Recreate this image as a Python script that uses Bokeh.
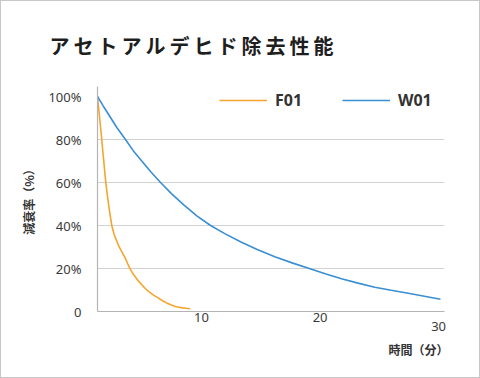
from bokeh.plotting import figure
from bokeh.models import Range1d, Legend, LegendItem, FixedTicker, Title
from bokeh.embed import file_html
from bokeh.resources import INLINE

# ---- data ----
title_text = "アセトアルデヒド除去性能"
y_label = "減衰率（%）"
x_label = "時間（分）"
series_names = ["F01", "W01"]

t_f01 = [1.22, 1.31, 1.40, 1.49, 1.58, 1.66, 1.75, 1.83, 1.92, 2.03, 2.15, 2.28, 2.43, 2.63,
         2.85, 3.00, 3.20, 3.56, 3.77, 3.98, 4.20, 4.45, 4.70, 4.96, 5.25, 5.60, 5.95, 6.37,
         6.70, 7.05, 7.40, 7.78, 8.10, 8.40, 8.70, 9.04]
v_f01 = [100, 95, 90, 85, 79.9, 75, 70, 65, 60, 55, 50, 45, 39.9, 35.7,
         32.6, 30.6, 28.5, 24.8, 22.2, 19.7, 17.7, 15.8, 14.0, 12.4, 10.7, 9.0, 7.6, 6.2,
         5.0, 4.0, 3.1, 2.3, 2.0, 1.7, 1.5, 1.3]

t_w01 = [1.22, 1.70, 2.17, 2.85, 3.58, 4.25, 4.99, 5.75, 6.54, 7.50, 8.50, 9.60, 10.76, 12.00,
         13.37, 14.70, 16.18, 17.70, 19.28, 20.50, 21.81, 23.20, 24.62, 26.00, 27.44, 28.80, 30.16]
v_w01 = [100, 95.6, 91.5, 85.6, 80, 74.7, 69.8, 64.8, 60, 54.6, 49.6, 44.5, 40, 36.1,
         32.2, 28.8, 25.5, 22.5, 19.7, 17.4, 15.2, 13.2, 11.3, 9.9, 8.5, 7.1, 5.7]

y_ticks = [0, 20, 40, 60, 80, 100]
y_tick_labels = ["0", "20%", "40%", "60%", "80%", "100%"]
x_ticks = [10, 20, 30]
x_tick_labels = ["10", "20", "\n30"]

# ---- layout constants ----
FL, FR, FT, FB = 96, 443, 85, 310
W, H = 480, 378
X0, X1 = 1.22, 30.5
Y0 = 0
Y1 = 100 + (95 - FT) / 2.15

p = figure(width=W, height=H, output_backend="svg", toolbar_location=None,
           x_range=Range1d(X0, X1), y_range=Range1d(Y0, Y1),
           min_border_left=FL, min_border_right=W - FR,
           min_border_top=FT, min_border_bottom=H - FB)
p.outline_line_color = None
p.background_fill_color = "white"
p.border_fill_color = "white"

# title with thin spaces for letter spacing
p.title.text = "\u2009".join(title_text)
p.title.align = "left"
p.title.offset = 48 - FL
p.title.text_font = "Noto Sans CJK JP"
p.title.text_font_size = "20px"
p.title.text_font_style = "bold"
p.title.text_color = "#1e1e1e"
p.title.standoff = 53

# grid
p.xgrid.grid_line_color = None
p.ygrid.ticker = FixedTicker(ticks=[20, 40, 60, 80])
p.ygrid.grid_line_color = "#d2d2d2"
p.ygrid.grid_line_width = 1

# axes
for ax in (p.xaxis[0], p.yaxis[0]):
    ax.axis_line_color = "#b4b4b4"
    ax.axis_line_width = 1.2
    ax.major_tick_line_color = None
    ax.minor_tick_line_color = None
    ax.major_label_text_font = "Noto Sans"
    ax.major_label_text_font_size = "13px"
    ax.major_label_text_color = "#3a3a3a"

p.yaxis.ticker = FixedTicker(ticks=y_ticks)
p.yaxis.major_label_overrides = {t: l for t, l in zip(y_ticks, y_tick_labels)}
p.yaxis.major_label_standoff = 10
p.yaxis.axis_label = y_label
p.yaxis.axis_label_text_font = "Noto Sans CJK JP"
p.yaxis.axis_label_text_font_size = "12px"
p.yaxis.axis_label_text_font_style = "bold"
p.yaxis.axis_label_text_color = "#333333"
p.yaxis.axis_label_standoff = 8

p.xaxis.ticker = FixedTicker(ticks=x_ticks)
p.xaxis.major_label_overrides = {t: l for t, l in zip(x_ticks, x_tick_labels)}
p.xaxis.major_label_standoff = -10
p.xaxis.major_label_text_line_height = 0.5

xt = Title(text=x_label, align="right", offset=-4,
           text_font="Noto Sans CJK JP", text_font_size="12px",
           text_font_style="bold", text_color="#333333", standoff=2)
p.add_layout(xt, "below")

# lines
orange = "#f5a52c"
blue = "#3a8ed2"
r1 = p.line(t_f01, v_f01, line_color=orange, line_width=1.6)
r2 = p.line(t_w01, v_w01, line_color=blue, line_width=1.6)

legend = Legend(items=[LegendItem(label=series_names[0], renderers=[r1]),
                       LegendItem(label=series_names[1], renderers=[r2])],
                orientation="horizontal", location=(218 - FL, FB - 110),
                padding=0, margin=0, spacing=27, glyph_width=48, glyph_height=20,
                label_standoff=8, label_height=20, label_width=40,
                border_line_color=None, background_fill_alpha=0,
                label_text_font="Open Sans", label_text_font_size="16px",
                label_text_color="#333333", label_text_font_style="bold")
p.add_layout(legend, "center")

p.styles = {"border": "1px solid #c8c8c8", "box-sizing": "border-box"}

open("out.html", "w").write(file_html(p, INLINE))
